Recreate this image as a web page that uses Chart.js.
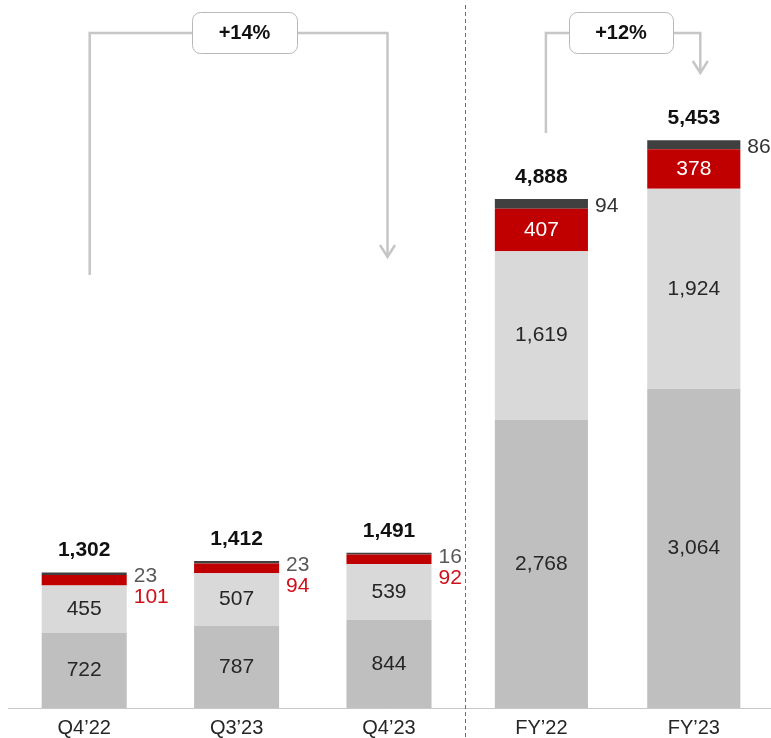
<!DOCTYPE html>
<html>
<head>
<meta charset="utf-8">
<script src="https://cdn.jsdelivr.net/npm/chart.js@4.4.1/dist/chart.umd.min.js"></script>
<style>
  html, body { margin: 0; padding: 0; background: #fff; overflow: hidden; }
  #wrap { width: 771px; height: 748px; position: relative; }
</style>
</head>
<body>
<div id="wrap"><canvas id="chart"></canvas></div>
<script>
// ===== DATA =====
const categories = ['Q4’22', 'Q3’23', 'Q4’23', 'FY’22', 'FY’23'];
const isAnnual = [false, false, false, true, true];
const baseValues = [722, 787, 844, 2768, 3064];
const midValues = [455, 507, 539, 1619, 1924];
const redValues = [101, 94, 92, 407, 378];
const topValues = [23, 23, 16, 94, 86];
const totals = [1302, 1412, 1491, 4888, 5453];
const growthLabels = ['+14%', '+12%'];

const FONT = '"Liberation Sans", Arial, Helvetica, sans-serif';
const SEGMENTS = [
  { key: 'base', values: baseValues, color: '#bfbfbf' },
  { key: 'mid', values: midValues, color: '#d9d9d9' },
  { key: 'red', values: redValues, color: '#c00000' },
  { key: 'top', values: topValues, color: '#404040' }
];

const fmt = v => v.toLocaleString('en-US');

// quarterly bars are a bit narrower than the full-year ones, so each segment
// gets one dataset per group (nulls elsewhere)
const datasets = [];
[false, true].forEach(annual => {
  SEGMENTS.forEach(seg => {
    datasets.push({
      segKey: seg.key,
      annual: annual,
      data: seg.values.map((v, i) => (isAnnual[i] === annual ? v : null)),
      backgroundColor: seg.color,
      borderWidth: 0,
      categoryPercentage: 1,
      barPercentage: annual ? 0.611 : 0.558,
      stack: 'all'
    });
  });
});

// ===== LABELS ON THE BARS =====
const barLabels = {
  id: 'barLabels',
  afterDatasetsDraw(chart) {
    const ctx = chart.ctx;
    ctx.save();
    ctx.textBaseline = 'middle';
    chart.data.datasets.forEach((ds, di) => {
      const meta = chart.getDatasetMeta(di);
      meta.data.forEach((bar, i) => {
        const v = ds.data[i];
        if (v == null) return;
        const { x, y, base, width } = bar.getProps(['x', 'y', 'base', 'width'], true);
        const right = x + width / 2 + 7;
        ctx.font = '21px ' + FONT;
        if (ds.segKey === 'base' || ds.segKey === 'mid') {
          ctx.fillStyle = '#262626';
          ctx.textAlign = 'center';
          ctx.fillText(fmt(v), x, (y + base) / 2);
        } else if (ds.segKey === 'red') {
          if (ds.annual) {
            ctx.fillStyle = '#ffffff';
            ctx.textAlign = 'center';
            ctx.fillText(fmt(v), x, (y + base) / 2);
          } else {
            // stacked under the grey label, to the right of the bar
            const topY = chart.getDatasetMeta(di + 1).data[i].y;
            ctx.fillStyle = '#d0101b';
            ctx.textAlign = 'left';
            ctx.fillText(fmt(v), right, topY + 25);
          }
        } else if (ds.segKey === 'top') {
          ctx.textAlign = 'left';
          if (ds.annual) {
            ctx.fillStyle = '#333333';
            ctx.fillText(fmt(v), right, (y + base) / 2 + 2);
          } else {
            ctx.fillStyle = '#595959';
            ctx.fillText(fmt(v), right, y + 4);
          }
          // total above the stack
          ctx.font = 'bold 21px ' + FONT;
          ctx.fillStyle = '#111111';
          ctx.textAlign = 'center';
          ctx.fillText(fmt(totals[i]), x, y - 22);
        }
      });
    });
    ctx.restore();
  }
};

// ===== GROWTH BRACKETS AND DIVIDER =====
const brackets = {
  id: 'brackets',
  afterDraw(chart) {
    const ctx = chart.ctx;
    const xs = chart.scales.x;
    const px = i => xs.getPixelForValue(i);

    // dashed divider between quarters and full years
    ctx.save();
    ctx.strokeStyle = '#6b6b6b';
    ctx.lineWidth = 1;
    ctx.setLineDash([4, 3]);
    const divX = Math.round((px(2) + px(3)) / 2) + 0.5;
    ctx.beginPath();
    ctx.moveTo(divX, 5);
    ctx.lineTo(divX, chart.height);
    ctx.stroke();
    ctx.restore();

    const defs = [
      { label: growthLabels[0], x1: px(0) + 5.5, y1: 275, x2: px(2) - 1.5, y2: 257, boxX: 192, boxW: 105 },
      { label: growthLabels[1], x1: px(3) + 4.5, y1: 133, x2: px(4) + 6.5, y2: 73, boxX: 569, boxW: 104 }
    ];
    const lineY = 33;
    defs.forEach(d => {
      ctx.save();
      ctx.strokeStyle = '#c6c6c6';
      ctx.lineWidth = 2.5;
      ctx.lineJoin = 'miter';
      ctx.beginPath();
      ctx.moveTo(d.x1, d.y1);
      ctx.lineTo(d.x1, lineY);
      ctx.lineTo(d.x2, lineY);
      ctx.lineTo(d.x2, d.y2);
      ctx.stroke();
      // arrow head
      ctx.beginPath();
      ctx.moveTo(d.x2 - 7.5, d.y2 - 12);
      ctx.lineTo(d.x2, d.y2);
      ctx.lineTo(d.x2 + 7.5, d.y2 - 12);
      ctx.stroke();
      // label box
      ctx.fillStyle = '#ffffff';
      ctx.strokeStyle = '#b8b8b8';
      ctx.lineWidth = 1;
      ctx.beginPath();
      ctx.roundRect(d.boxX + 0.5, 12.5, d.boxW, 41, 8);
      ctx.fill();
      ctx.stroke();
      ctx.fillStyle = '#111111';
      ctx.font = 'bold 20px ' + FONT;
      ctx.textAlign = 'center';
      ctx.textBaseline = 'middle';
      ctx.fillText(d.label, d.boxX + d.boxW / 2, 33);
      ctx.restore();
    });
  }
};

new Chart(document.getElementById('chart'), {
  type: 'bar',
  data: { labels: categories, datasets: datasets },
  options: {
    responsive: true,
    maintainAspectRatio: false,
    animation: false,
    layout: { padding: { left: 8, right: 1, top: 0, bottom: 0 } },
    plugins: {
      legend: { display: false },
      tooltip: { enabled: false }
    },
    scales: {
      x: {
        stacked: true,
        grid: { display: false, drawTicks: false },
        border: { display: true, color: '#c8c8c8', width: 1 },
        ticks: {
          color: '#262626',
          padding: 10,
          font: { family: FONT, size: 20, lineHeight: 1 }
        }
      },
      y: {
        stacked: true,
        display: false,
        min: 0,
        max: 6800
      }
    }
  },
  plugins: [barLabels, brackets]
});
</script>
</body>
</html>
